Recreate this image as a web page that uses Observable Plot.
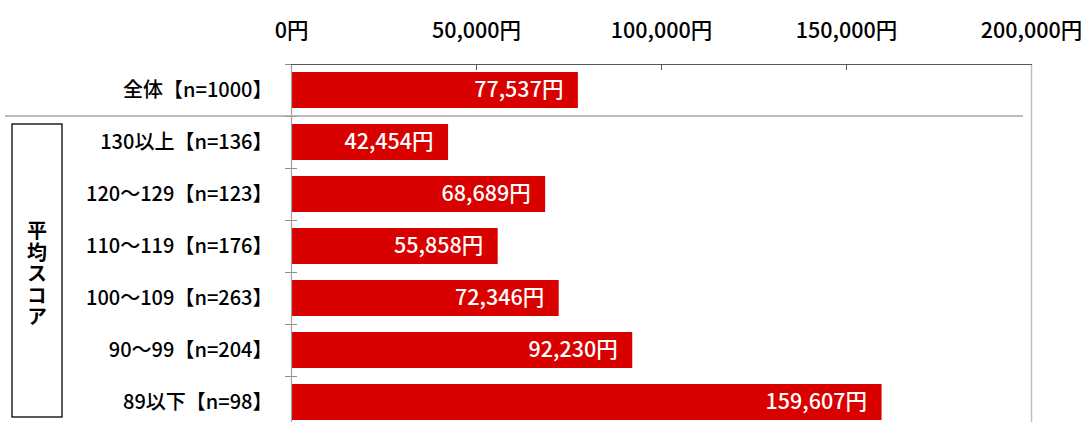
<!DOCTYPE html>
<html><head><meta charset="utf-8">
<script src="https://cdn.jsdelivr.net/npm/d3@7"></script>
<script src="https://cdn.jsdelivr.net/npm/@observablehq/plot@0.6"></script>
<style>
body{margin:0;background:#fff;overflow:hidden}
#chart{width:1084px;height:422px;overflow:hidden;position:relative}
</style>
</head><body><div id="chart"></div>
<script>
const categories = ["全体【n=1000】","130以上【n=136】","120～129【n=123】","110～119【n=176】","100～109【n=263】","90～99【n=204】","89以下【n=98】"];
const values = [77537, 42454, 68689, 55858, 72346, 92230, 159607];
const xTicks = [0, 50000, 100000, 150000, 200000];
const groupTitle = "平均スコア";
const unit = "円";

const data = categories.map((label, i) => ({label, value: values[i]}));
const fmt = d3.format(",");
const FONT = "'Noto Sans CJK JP', 'Noto Sans', sans-serif";

const plot = Plot.plot({
  width: 1084, height: 428,
  marginTop: 64, marginBottom: 0, marginLeft: 291, marginRight: 53,
  style: {fontFamily: FONT, fontSize: "20px", color: "#000", background: "#fff", overflow: "visible"},
  x: {domain: [0, 200000]},
  y: {domain: categories, paddingInner: 0.3, paddingOuter: 0.15},
  marks: [
    Plot.barX(data, {x: "value", y: "label", fill: "#d90000"}),
    Plot.text(data, {x: "value", y: "label", text: d => fmt(d.value) + unit, textAnchor: "end", dx: -15, fill: "#fff", fontSize: 21.5, fontWeight: 500}),
    Plot.axisX({anchor: "top", ticks: xTicks, tickSize: 0, tickPadding: 27, tickFormat: d => fmt(d) + unit, fontSize: 21.5, fontWeight: 500, fill: "#000", label: null}),
    Plot.axisX({anchor: "top", ticks: xTicks, tickSize: 5, dy: 5, text: null, label: null, stroke: "#595959"}),
    Plot.axisY({anchor: "left", tickSize: 0, tickPadding: 19, fontSize: 20, fontWeight: 500, fill: "#000", label: null}),
    Plot.axisY({anchor: "left", tickSize: 6, dy: -26, text: null, label: null, stroke: "#8c8c8c"}),
    Plot.axisY({anchor: "left", tickSize: 6, dy: -26, dx: 6, text: null, label: null, stroke: "#8c8c8c"}),
    Plot.frame({anchor: "left", stroke: "#a0a0a0", strokeWidth: 1.2}),
    Plot.frame({anchor: "right", stroke: "#c0c0c0", strokeWidth: 1.5}),
    Plot.frame({anchor: "top", stroke: "#595959", strokeWidth: 1.2})
  ]
});
document.getElementById("chart").append(plot);

// decorations: group separator and bracket box, placed via the plot's scales
const ys = plot.scale("y");
const step = ys.apply(categories[2]) - ys.apply(categories[1]);
const gap = step - ys.bandwidth;
const sepY = ys.apply(categories[1]) - gap / 2;
const svg = d3.select(plot);
svg.append("line")
  .attr("x1", 5).attr("x2", 1023).attr("y1", sepY).attr("y2", sepY)
  .attr("stroke", "#a6a6a6").attr("stroke-width", 1.5);
const boxTop = ys.apply(categories[1]);
const boxBottom = ys.apply(categories[categories.length - 1]) + ys.bandwidth - 3;
svg.append("rect")
  .attr("x", 12).attr("y", boxTop).attr("width", 50).attr("height", boxBottom - boxTop)
  .attr("fill", "none").attr("stroke", "#000").attr("stroke-width", 1.3);
svg.append("text")
  .attr("x", 37).attr("y", (boxTop + boxBottom) / 2 + 4)
  .attr("text-anchor", "middle")
  .style("writing-mode", "vertical-rl")
  .style("letter-spacing", "1.5px")
  .attr("font-family", FONT).attr("font-size", 20).attr("font-weight", "bold")
  .attr("fill", "#000")
  .text(groupTitle);
</script>
</body></html>
